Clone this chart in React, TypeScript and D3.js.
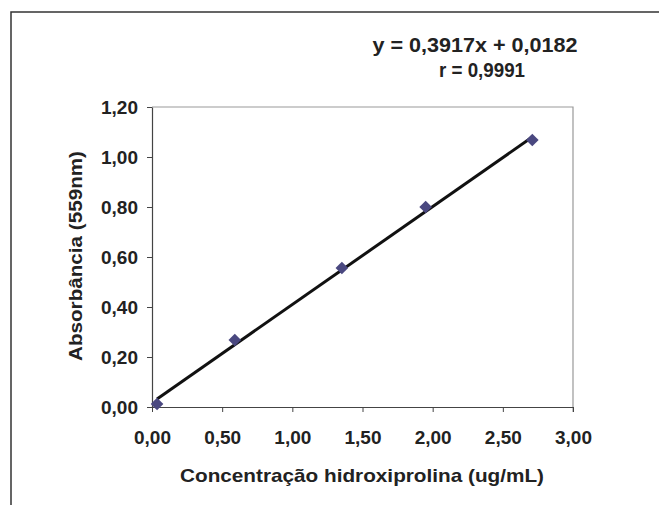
import React, { useRef, useEffect } from "react";
import * as d3 from "d3";

// concentration (ug/mL) vs absorbance (559nm)
const concentration = [0.036, 0.59, 1.353, 1.95, 2.71];
const absorbance = [0.012, 0.268, 0.556, 0.8, 1.068];
const slope = 0.3917;
const intercept = 0.0182;
const xTicks = [0, 0.5, 1, 1.5, 2, 2.5, 3];
const yTicks = [0, 0.2, 0.4, 0.6, 0.8, 1.0, 1.2];
const equationLines = ["y = 0,3917x + 0,0182", "r = 0,9991"];

const fmt = (v: number) => v.toFixed(2).replace(".", ",");

const App = () => {
  const svgRef = useRef<SVGSVGElement>(null);

  useEffect(() => {
    if (!svgRef.current) return;
    const width = 659;
    const height = 505;
    const left = 152;
    const right = 573;
    const top = 107;
    const bottom = 407;
    const font = "'Liberation Sans', Arial, sans-serif";

    const svg = d3.select(svgRef.current).attr("width", width).attr("height", height);
    svg.selectAll("*").remove();

    // outer frame (top and left edges visible)
    svg
      .append("path")
      .attr("d", `M11,${height} L11,12 L${width},12`)
      .attr("fill", "none")
      .attr("stroke", "#333")
      .attr("stroke-width", 1.5);

    const x = d3.scaleLinear().domain([0, 3]).range([left, right]);
    const y = d3.scaleLinear().domain([0, 1.2]).range([bottom, top]);

    // plot area border (top/right)
    svg
      .append("path")
      .attr("d", `M${left},${top} L${right},${top} L${right},${bottom + 5}`)
      .attr("fill", "none")
      .attr("stroke", "#999")
      .attr("stroke-width", 1.2);

    const xAxis = svg
      .append("g")
      .attr("transform", `translate(0,${bottom})`)
      .call(d3.axisBottom(x).tickValues(xTicks).tickSize(5).tickSizeOuter(0).tickFormat((d) => fmt(+d)));
    xAxis.select(".domain").attr("stroke", "#444").attr("stroke-width", 1.2);
    xAxis.selectAll(".tick line").attr("stroke", "#444");
    xAxis
      .selectAll(".tick text")
      .attr("y", 24)
      .attr("dy", "0.71em")
      .attr("fill", "#222")
      .style("font-family", font)
      .style("font-size", "19px")
      .style("font-weight", "bold");

    const yAxis = svg
      .append("g")
      .attr("transform", `translate(${left},0)`)
      .call(d3.axisLeft(y).tickValues(yTicks).tickSize(5).tickSizeOuter(0).tickFormat((d) => fmt(+d)));
    yAxis.select(".domain").attr("stroke", "#444").attr("stroke-width", 1.2);
    yAxis.selectAll(".tick line").attr("stroke", "#444");
    yAxis
      .selectAll(".tick text")
      .attr("x", -14)
      .attr("dy", "0.36em")
      .attr("fill", "#222")
      .style("font-family", font)
      .style("font-size", "19px")
      .style("font-weight", "bold");

    // regression line
    const xMin = d3.min(concentration) as number;
    const xMax = d3.max(concentration) as number;
    svg
      .append("line")
      .attr("x1", x(xMin))
      .attr("y1", y(slope * xMin + intercept))
      .attr("x2", x(xMax))
      .attr("y2", y(slope * xMax + intercept))
      .attr("stroke", "#111")
      .attr("stroke-width", 3);

    // data markers
    svg
      .append("g")
      .selectAll("path")
      .data(concentration)
      .join("path")
      .attr("d", d3.symbol(d3.symbolSquare, 80)())
      .attr("transform", (d, i) => `translate(${x(d)},${y(absorbance[i])}) rotate(45)`)
      .attr("fill", "#4a4880");

    // equation
    const eqWidths = [205, 86];
    svg
      .append("g")
      .selectAll("text")
      .data(equationLines)
      .join("text")
      .attr("x", (d, i) => (i === 0 ? 475 : 482))
      .attr("y", (d, i) => 52 + i * 25)
      .attr("text-anchor", "middle")
      .attr("textLength", (d, i) => eqWidths[i])
      .attr("lengthAdjust", "spacingAndGlyphs")
      .attr("fill", "#222")
      .style("font-family", font)
      .style("font-size", "20px")
      .style("font-weight", "bold")
      .text((d) => d);

    // axis titles
    svg
      .append("text")
      .attr("x", 362)
      .attr("y", 482)
      .attr("text-anchor", "middle")
      .attr("textLength", 364)
      .attr("lengthAdjust", "spacingAndGlyphs")
      .attr("fill", "#222")
      .style("font-family", font)
      .style("font-size", "19px")
      .style("font-weight", "bold")
      .text("Concentração hidroxiprolina (ug/mL)");

    svg
      .append("text")
      .attr("transform", `translate(82,256) rotate(-90)`)
      .attr("text-anchor", "middle")
      .attr("textLength", 210)
      .attr("lengthAdjust", "spacingAndGlyphs")
      .attr("fill", "#222")
      .style("font-family", font)
      .style("font-size", "19px")
      .style("font-weight", "bold")
      .text("Absorbância (559nm)");
  }, []);

  return (
    <svg
      ref={svgRef}
      style={{ position: "absolute", left: 0, top: 0, background: "#fff" }}
    ></svg>
  );
};

export default App;
